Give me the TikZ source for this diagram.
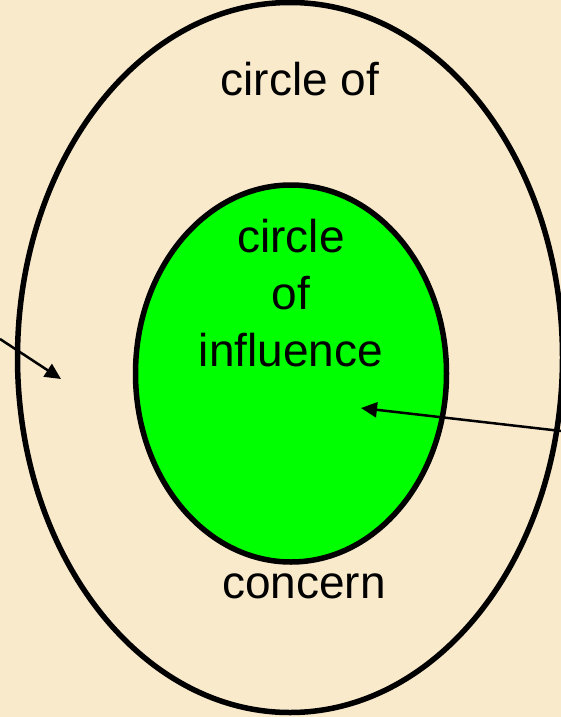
\documentclass[tikz,border=0pt]{standalone}
\usepackage{fontspec}
\setmainfont{Liberation Sans}
\usetikzlibrary{shapes.geometric,arrows.meta}
\definecolor{bg}{RGB}{250,234,204}
\definecolor{infl}{RGB}{0,255,0}
\begin{document}
\begin{tikzpicture}[x=1pt,y=-1pt,
  ring/.style={ellipse,draw=black,line width=5.5pt,inner sep=0pt},
  lbl/.style={font=\fontsize{46}{57}\selectfont,anchor=base,inner sep=0pt,align=center},
  pointer/.style={line width=2.5pt,-{Triangle[length=16pt,width=15pt]}}]
\fill[bg] (0,0) rectangle (561,717);
\useasboundingbox (0,0) rectangle (561,717);
\node[ring,minimum width=545pt,minimum height=710pt] (outer) at (290,357.5) {};
\node[ring,fill=infl,minimum width=311pt,minimum height=377pt] (inner) at (291,373.5) {};
\node[lbl] (t1) at (300,95) {circle of};
\node[lbl] (t2) at (291,366) {circle\\of\\influence};
\node[lbl] (t3) at (304,598) {concern};
\coordinate (la) at (0,339);
\coordinate (lb) at (61,379);
\coordinate (ra) at (561,431);
\coordinate (rb) at (361,408);
\draw[pointer] (la) -- (lb);
\draw[pointer] (ra) -- (rb);
\end{tikzpicture}
\end{document}
